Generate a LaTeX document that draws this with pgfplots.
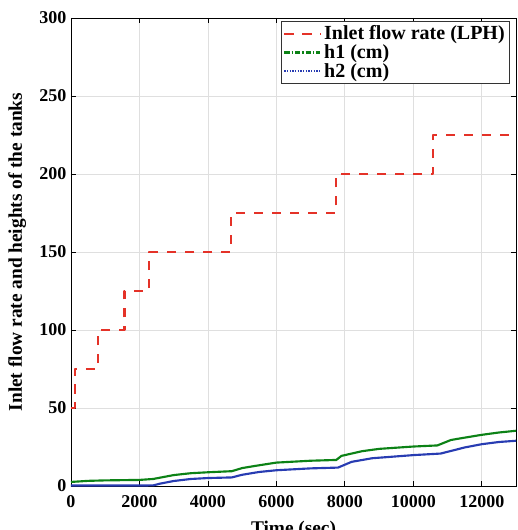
\documentclass[border=0pt]{standalone}
\usepackage{fontspec}
\setmainfont{Liberation Serif}
\usepackage{pgfplots}
\pgfplotsset{compat=1.18}
\definecolor{cred}{RGB}{228,50,40}
\definecolor{cgreen}{RGB}{12,130,22}
\definecolor{cblue}{RGB}{40,60,178}
\begin{document}
\begin{tikzpicture}
\begin{axis}[
  scale only axis,
  width=333.75pt, height=351pt,
  xmin=0, xmax=13000, ymin=0, ymax=300,
  scaled ticks=false,
  xtick={0,2000,4000,6000,8000,10000,12000},
  xticklabels={0,2000,4000,6000,8000,10000,12000},
  ytick={0,50,100,150,200,250,300},
  yticklabels={0,50,100,150,200,250,300},
  tick label style={font=\fontsize{13.5}{15}\selectfont\bfseries},
  xticklabel style={yshift=-3.5pt},
  label style={font=\fontsize{14.5}{16}\selectfont\bfseries},
  xlabel={Time (sec)},
  ylabel={Inlet flow rate and heights of the tanks},
  ylabel style={yshift=3pt},
  xlabel style={yshift=-3pt},
  tick align=inside,
  major tick length=3.8pt,
  tick style={black, line width=0.6pt},
  axis line style={black, line width=0.7pt},
  grid=major,
  major grid style={gray!25, line width=0.6pt},
  legend style={at={(rel axis cs:0.986,0.994)}, anchor=north east,
    font=\fontsize{15}{17}\selectfont\bfseries, draw=black!80, line width=0.6pt,
    inner sep=1.5pt, row sep=-2pt, cells={anchor=west}},
  legend image code/.code={\draw[#1] (0cm,0cm) -- (0.95cm,0cm);},
]
\addplot[cred, line width=1.7pt, dash pattern=on 7pt off 6.5pt, line join=round] coordinates {
(0,50) (110,50) (110,75) (790,75) (790,100) (1560,100) (1560,125) (2280,125) (2280,150) (4670,150) (4670,175) (7750,175) (7750,200) (10580,200) (10580,225) (13000,225)};
\addlegendentry{Inlet flow rate (LPH)}
\addplot[cgreen, line width=1.6pt, legend image post style={dash pattern=on 4pt off 1.5pt on 1pt off 1.5pt}] coordinates {
(0,2.6) (500,3.3) (1000,3.6) (2000,3.9) (2400,4.5) (3000,7) (3500,8.2) (4000,8.8) (4700,9.5) (5000,11.5) (5500,13.3) (6000,15) (7000,16.2) (7750,16.7) (7900,19.3) (8500,22.3) (9000,23.8) (10000,25.3) (10700,26) (11100,29.5) (11500,31) (12000,32.8) (12500,34.3) (13000,35.4)};
\addlegendentry{h1 (cm)}
\addplot[cblue, line width=1.6pt, legend image post style={dash pattern=on 1pt off 1pt}] coordinates {
(0,0.3) (2000,0.3) (2400,0.4) (2600,1.5) (3000,3.2) (3500,4.5) (4000,5.1) (4700,5.5) (5000,7.2) (5500,9) (6000,10.1) (7000,11.3) (7800,11.8) (8200,15.5) (8800,17.8) (10000,19.8) (10800,20.8) (11500,24.7) (12000,26.8) (12500,28.2) (13000,29)};
\addlegendentry{h2 (cm)}
\end{axis}
\pgfresetboundingbox
\useasboundingbox ([xshift=-53.25pt,yshift=-33pt]current axis.south west) rectangle ([xshift=0.75pt,yshift=13.5pt]current axis.north east);
\end{tikzpicture}
\end{document}
